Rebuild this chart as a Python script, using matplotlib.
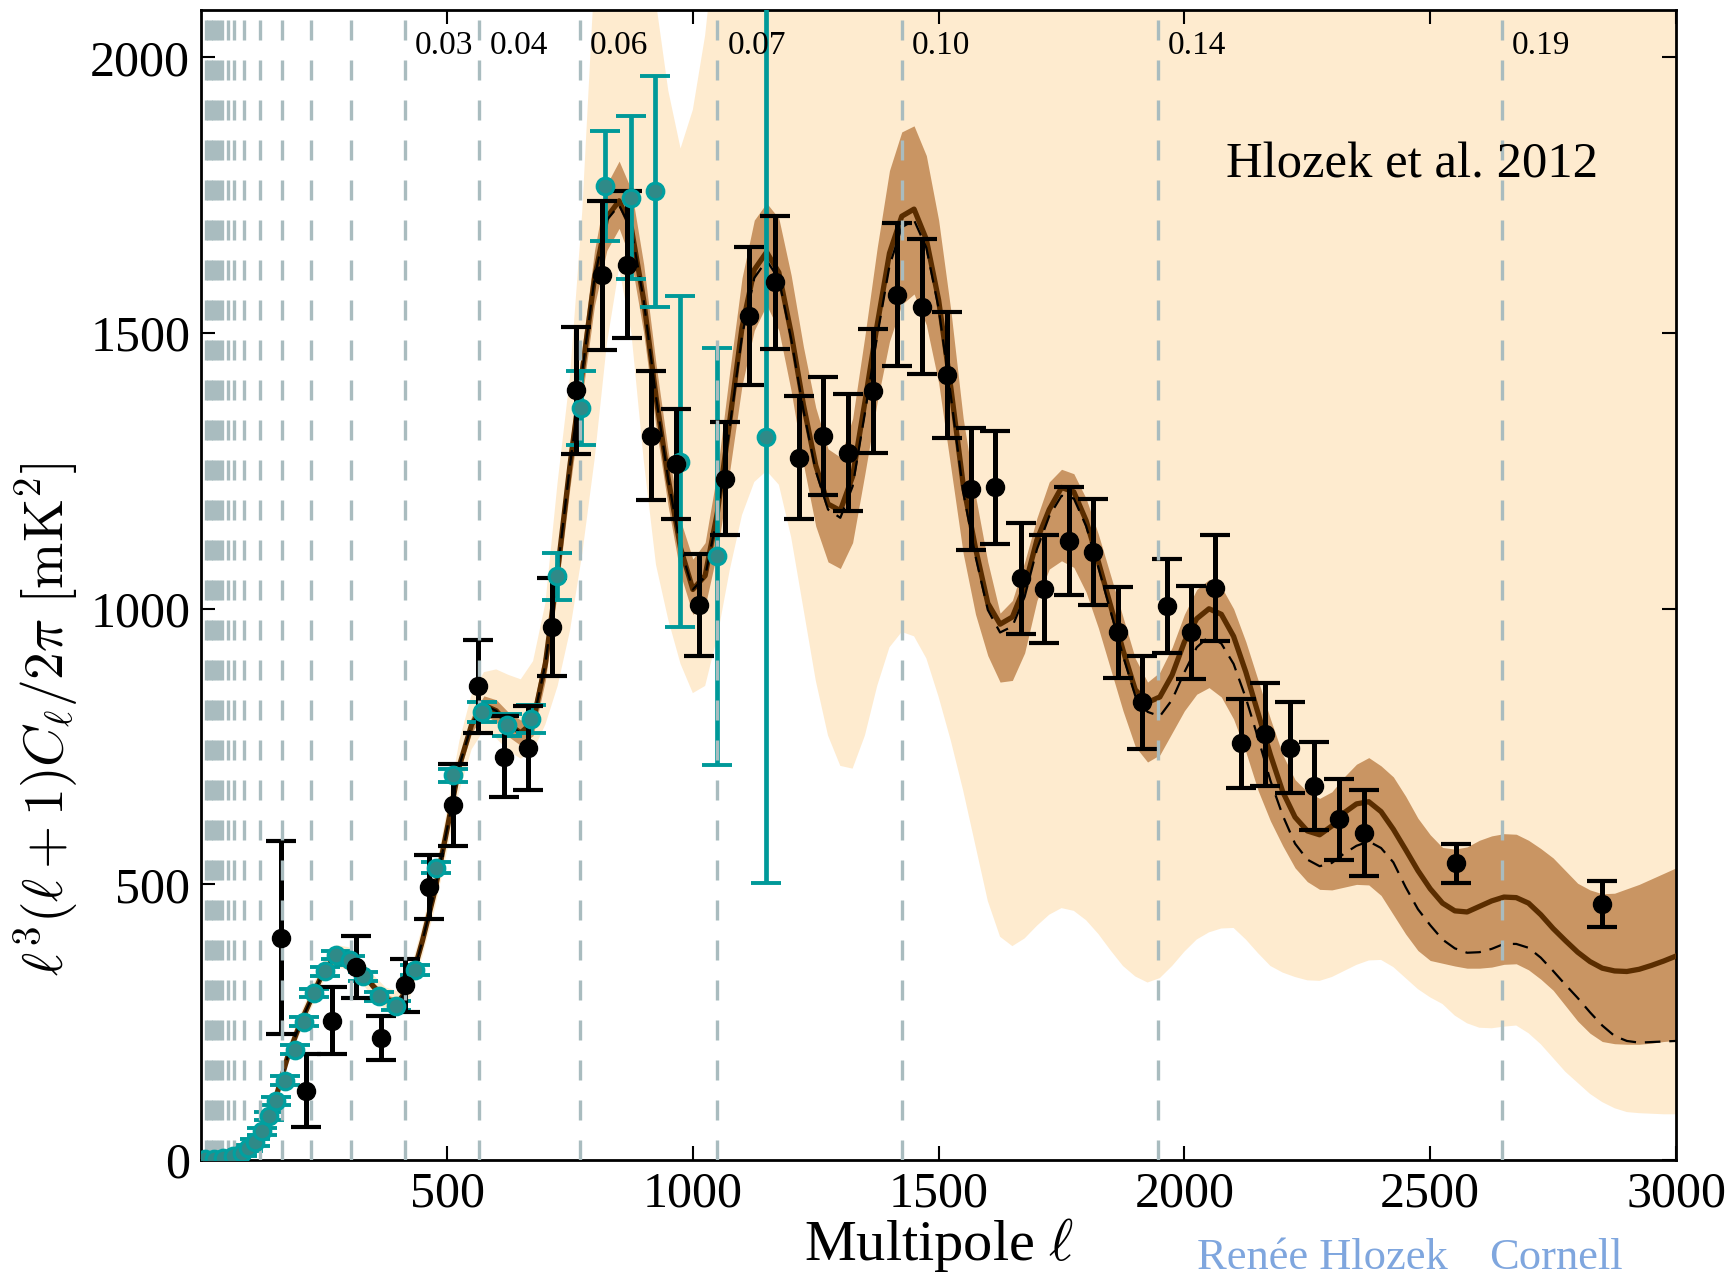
"""
CMB power spectrum l^3(l+1)C_l/2pi with data points, best-fit model and bands
"""

import matplotlib
matplotlib.use('Agg')
import matplotlib.pyplot as plt
import numpy as np

plt.rcParams['font.family'] = ['Liberation Serif', 'DejaVu Serif']
plt.rcParams['mathtext.fontset'] = 'cm'

# multipole grid for the model curves and bands
ell = np.arange(0, 3001, 25)

# best-fit model (solid)
model_best = [
    0, 2, 4, 10, 24, 55, 108, 185, 245, 295,
    345, 370, 365, 343, 315, 292, 285, 318, 398, 488,
    600, 715, 790, 825, 815, 790, 775, 795, 900, 1070,
    1260, 1430, 1600, 1710, 1740, 1690, 1560, 1385, 1235, 1110,
    1035, 1060, 1175, 1340, 1510, 1615, 1647, 1610, 1500, 1370,
    1260, 1190, 1178, 1240, 1375, 1515, 1645, 1712, 1725, 1670,
    1560, 1400, 1225, 1110, 1010, 972, 985, 1040, 1125, 1180,
    1220, 1212, 1160, 1085, 1005, 925, 853, 830, 840, 880,
    940, 982, 1000, 990, 950, 885, 810, 735, 668, 622,
    597, 590, 606, 630, 646, 650, 632, 600, 563, 525,
    492, 466, 452, 450, 460, 470, 477, 476, 466, 445,
    420, 398, 377, 360, 348, 343, 342, 346, 353, 361,
    370,
]

# reference model (dashed)
model_ref = [
    0, 2, 4, 10, 24, 55, 108, 185, 245, 295,
    345, 370, 365, 343, 315, 292, 285, 318, 398, 488,
    600, 715, 790, 825, 815, 790, 775, 795, 900, 1070,
    1260, 1430, 1600, 1705, 1732, 1688, 1560, 1385, 1235, 1110,
    1035, 1058, 1170, 1330, 1495, 1600, 1632, 1598, 1490, 1360,
    1250, 1180, 1165, 1222, 1355, 1495, 1622, 1692, 1705, 1655,
    1545, 1385, 1212, 1095, 998, 957, 968, 1022, 1108, 1168,
    1205, 1200, 1150, 1075, 995, 915, 842, 813, 805, 835,
    885, 930, 950, 937, 900, 838, 765, 688, 625, 574,
    545, 533, 539, 556, 570, 578, 566, 540, 495, 455,
    426, 400, 384, 376, 377, 383, 392, 392, 385, 367,
    343, 318, 294, 268, 244, 225, 216, 213, 214, 215,
    216,
]

# 68% band
band68_hi = [
    1, 3, 6, 13, 28, 60, 114, 191, 252, 302,
    352, 378, 373, 351, 323, 300, 293, 327, 408, 499,
    612, 728, 805, 842, 835, 812, 798, 820, 930, 1105,
    1300, 1475, 1650, 1770, 1812, 1760, 1625, 1445, 1285, 1160,
    1090, 1120, 1250, 1430, 1600, 1705, 1736, 1708, 1605, 1475,
    1365, 1290, 1275, 1345, 1495, 1655, 1795, 1865, 1876, 1822,
    1705, 1540, 1345, 1205, 1085, 992, 1015, 1085, 1165, 1230,
    1253, 1245, 1200, 1135, 1060, 985, 910, 867, 885, 930,
    990, 1035, 1053, 1040, 1000, 940, 870, 800, 735, 690,
    668, 656, 668, 695, 718, 730, 715, 695, 660, 620,
    590, 567, 564, 568, 580, 588, 592, 591, 580, 565,
    548, 525, 502, 490, 483, 484, 492, 500, 510, 520,
    530,
]
band68_lo = [
    0, 1, 3, 8, 20, 50, 102, 179, 238, 288,
    338, 362, 357, 335, 307, 284, 277, 309, 388, 477,
    588, 702, 775, 808, 795, 768, 752, 770, 870, 1035,
    1220, 1385, 1550, 1650, 1690, 1630, 1500, 1330, 1185, 1062,
    990, 1005, 1105, 1250, 1405, 1505, 1551, 1505, 1395, 1262,
    1150, 1085, 1073, 1120, 1245, 1375, 1485, 1552, 1571, 1515,
    1410, 1255, 1100, 990, 915, 867, 870, 920, 1015, 1072,
    1087, 1075, 1030, 965, 890, 815, 750, 722, 735, 775,
    815, 845, 857, 840, 800, 740, 670, 615, 570, 530,
    505, 491, 490, 495, 500, 499, 480, 445, 410, 380,
    362, 357, 352, 348, 348, 350, 355, 356, 345, 328,
    308, 280, 252, 230, 215, 211, 210, 210, 212, 215,
    217,
]

# 95% band
band95_hi = [
    3, 5, 9, 17, 33, 67, 122, 200, 262, 313,
    364, 390, 386, 364, 336, 313, 306, 342, 425, 518,
    635, 760, 845, 885, 890, 880, 872, 905, 1010, 1230,
    1420, 1720, 2150, 2500, 2500, 2500, 2400, 2100, 1940, 1835,
    1905, 2040, 2250, 2500, 2500, 2500, 2500, 2500, 2500, 2500,
    2500, 2500, 2500, 2500, 2500, 2500, 2500, 2500, 2500, 2500,
    2500, 2500, 2500, 2500, 2500, 2500, 2500, 2500, 2500, 2500,
    2500, 2500, 2500, 2500, 2500, 2500, 2500, 2500, 2500, 2500,
    2500, 2500, 2500, 2500, 2500, 2500, 2500, 2500, 2500, 2500,
    2500, 2500, 2500, 2500, 2500, 2500, 2500, 2500, 2500, 2500,
    2500, 2500, 2500, 2500, 2500, 2500, 2500, 2500, 2500, 2500,
    2500, 2500, 2500, 2500, 2500, 2500, 2500, 2500, 2500, 2500,
    2500,
]
band95_lo = [
    0, 0, 1, 5, 16, 44, 94, 170, 228, 277,
    326, 350, 345, 323, 295, 272, 265, 296, 370, 455,
    560, 670, 745, 780, 765, 742, 728, 742, 790, 860,
    960, 1100, 1270, 1480, 1618, 1500, 1270, 1080, 980, 900,
    847, 860, 950, 1070, 1170, 1230, 1250, 1225, 1130, 1000,
    870, 770, 715, 710, 770, 860, 930, 958, 950, 910,
    840, 760, 670, 570, 470, 405, 388, 402, 425, 445,
    457, 452, 435, 410, 380, 352, 333, 322, 330, 352,
    378, 400, 413, 420, 421, 400, 375, 352, 340, 332,
    326, 325, 332, 343, 354, 362, 363, 350, 330, 310,
    295, 283, 262, 248, 240, 239, 242, 244, 230, 210,
    185, 160, 140, 120, 105, 94, 87, 85, 84, 83,
    83,
]

# high-resolution bandpowers (black)
hr_ell = [163, 214, 265, 315, 365, 414, 463, 513, 563, 615, 664, 714, 763,
          815, 866, 914, 965, 1013, 1065, 1115, 1168, 1215, 1265, 1315, 1367,
          1415, 1466, 1516, 1566, 1615, 1667, 1714, 1766, 1815, 1865, 1914,
          1964, 2014, 2063, 2115, 2164, 2214, 2264, 2315, 2365, 2552, 2849]
hr_cl = [403, 126, 253, 350, 222, 317, 495, 644, 859, 732, 748, 967, 1396,
         1605, 1624, 1314, 1262, 1007, 1236, 1531, 1592, 1274, 1314, 1283, 1395,
         1570, 1548, 1424, 1217, 1220, 1055, 1035, 1123, 1103, 957, 830,
         1005, 957, 1037, 756, 772, 748, 678, 618, 594, 538, 465]
hr_err = [175, 66, 60, 56, 40, 48, 58, 75, 85, 74, 76, 89, 115,
          135, 133, 117, 100, 92, 103, 125, 120, 112, 107, 106, 113,
          129, 122, 115, 110, 102, 100, 98, 98, 97, 82, 85,
          85, 85, 96, 81, 94, 83, 80, 74, 78, 35, 42]

# full-sky bandpowers (teal)
fs_ell = [8, 25, 45, 65, 82, 95, 109, 123, 138, 153, 171, 191, 209, 229, 252,
          275, 302, 330, 362, 396, 435, 477, 513, 572, 622, 671, 723, 772,
          822, 874, 923, 973, 1050, 1149]
fs_cl = [1, 2, 4, 7, 13, 22, 32, 52, 80, 107, 144, 200, 251, 303, 342,
         372, 362, 333, 297, 280, 345, 530, 698, 812, 790, 800, 1059, 1364,
         1767, 1746, 1757, 1267, 1095, 1312]
fs_err = [3, 3, 3, 4, 5, 5, 6, 6, 7, 7, 8, 8, 8, 8, 8,
          8, 8, 8, 8, 8, 9, 10, 12, 18, 20, 25, 43, 67,
          100, 147, 210, 300, 378, 810]

# multipoles of the redshift shells, and the labelled ones
shell_ell = [10, 14, 19, 24, 30, 36, 42, 55, 66, 86, 119, 164, 224, 304,
             415, 566, 770, 1050, 1426, 1946, 2646]
shell_label_ell = [415, 566, 770, 1050, 1426, 1946, 2646]
shell_labels = ['0.03', '0.04', '0.06', '0.07', '0.10', '0.14', '0.19']

fig = plt.figure(figsize=(17.35, 12.77), dpi=100)
ax = fig.add_axes([0.116, 0.0916, 0.850, 0.9005])

# bands
ax.fill_between(ell, band95_lo, band95_hi, color='#feebcf', lw=0, zorder=1)
ax.fill_between(ell, band68_lo, band68_hi, color='#c99563', lw=0, zorder=2)

# model curves
ax.plot(ell, model_best, color='#5a2d00', lw=3.8, zorder=3)
ax.plot(ell, model_ref, color='black', lw=1.6, dashes=(7, 4), zorder=4)

# error bars
ax.errorbar(fs_ell, fs_cl, yerr=fs_err, fmt='none', ecolor='#009999',
            elinewidth=3.4, capsize=11, capthick=2.8, zorder=5)
ax.errorbar(hr_ell, hr_cl, yerr=hr_err, fmt='none', ecolor='black',
            elinewidth=3.6, capsize=11, capthick=3.0, zorder=5)

# shell lines
for l in shell_ell:
    ax.axvline(l, color='#a9bcbf', lw=2.4, dashes=(6, 6), zorder=6)
for l, lab in zip(shell_label_ell, shell_labels):
    ax.text(l + 20, 2022, lab, fontsize=24, ha='left', va='center', zorder=9)

# markers
ax.plot(fs_ell, fs_cl, 'o', ms=12, mfc='#2f8a88', mec='#00a0a0', mew=2.2, zorder=7)
ax.plot(hr_ell, hr_cl, 'o', ms=13, color='black', zorder=8)

ax.set_xlim(0, 3000)
ax.set_ylim(0, 2086)
ax.set_xticks([500, 1000, 1500, 2000, 2500, 3000])
ax.set_yticks([0, 500, 1000, 1500, 2000])
ax.tick_params(direction='in', length=10, width=1.5, top=True, right=True,
               labelsize=36, pad=8)
for sp in ax.spines.values():
    sp.set_linewidth(2)

ax.text(2085, 1805, 'Hlozek et al. 2012', fontsize=36.5, ha='left',
        va='center', zorder=9)

fig.text(0.541, 0.025, r'Multipole $\ell$', fontsize=42, ha='center', va='center')
fig.text(0.027, 0.437, r'$\ell^3(\ell+1)C_\ell/2\pi\ [\mathrm{mK}^2]$',
         fontsize=40, rotation=90, ha='center', va='center')

fig.text(0.762, 0.015, 'Renée Hlozek', fontsize=32, color='#7fa6de',
         ha='center', va='center')
fig.text(0.897, 0.015, 'Cornell', fontsize=32, color='#7fa6de',
         ha='center', va='center')

fig.savefig('out.png', dpi=100)
